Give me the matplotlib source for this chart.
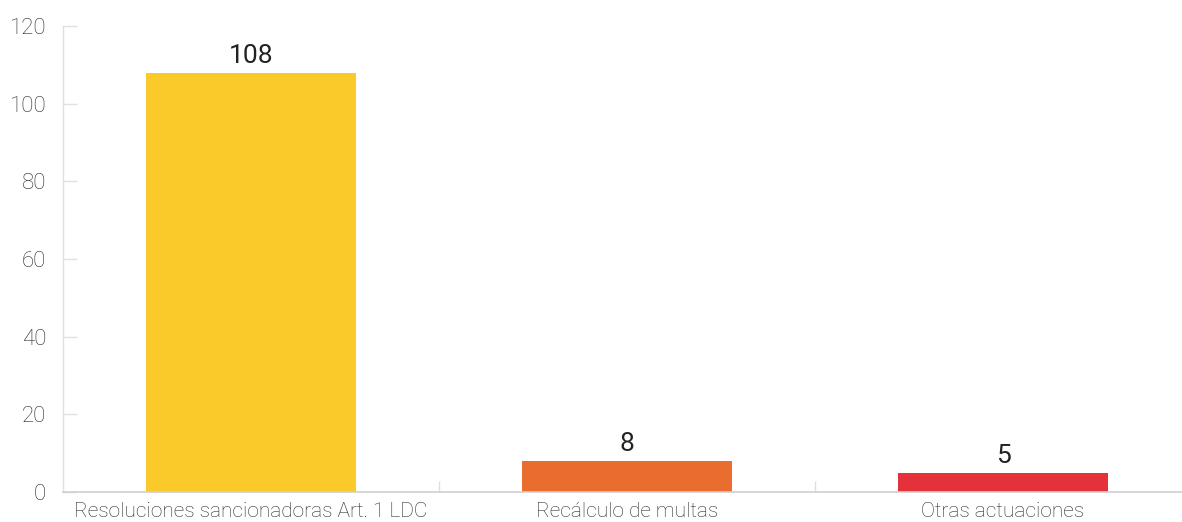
import matplotlib.pyplot as plt
import numpy as np

categories = ["Resoluciones sancionadoras Art. 1 LDC", "Recálculo de multas", "Otras actuaciones"]
values = [108, 8, 5]
colors = ["#F9CA2A", "#E86D2E", "#E5323A"]
yticks = [0, 20, 40, 60, 80, 100, 120]

fig = plt.figure(figsize=(11.82, 5.22), dpi=100)
# axes runs slightly past the right edge of the figure
ax = fig.add_axes([63 / 1182, 30 / 522, 1128 / 1182, 466 / 522])

x = np.arange(len(categories))
bars = ax.bar(x, values, width=0.56, color=colors, zorder=2)

for rect, v in zip(bars, values):
    ax.text(rect.get_x() + rect.get_width() / 2, v + 1.2, str(v),
            ha="center", va="bottom", fontsize=19, family="Roboto",
            color="#222222")

ax.set_xlim(-0.5, len(categories) - 0.5)
ax.set_ylim(0, 120)
ax.set_yticks(yticks)
ax.set_yticklabels([str(t) for t in yticks], family="Roboto", fontweight="light",
                   fontsize=16, color="#2a2a2a")
ax.set_xticks(x)
ax.set_xticklabels(categories, family="Roboto", fontweight="light",
                   fontsize=15, color="#2a2a2a")
ax.set_xticks(np.arange(0.5, len(categories) - 0.5, 1), minor=True)

ax.tick_params(axis="y", direction="in", length=10, width=1, color="#e0e0e0", pad=12)
ax.tick_params(axis="x", which="major", length=0, pad=7)
ax.tick_params(axis="x", which="minor", direction="in", length=8, width=1, color="#e0e0e0")

for side in ["top", "right"]:
    ax.spines[side].set_visible(False)
ax.spines["left"].set_color("#e0e0e0")
ax.spines["bottom"].set_color("#d0d0d0")
ax.spines["left"].set_linewidth(1)
ax.spines["bottom"].set_linewidth(1.2)

fig.savefig("out.png", dpi=100)
